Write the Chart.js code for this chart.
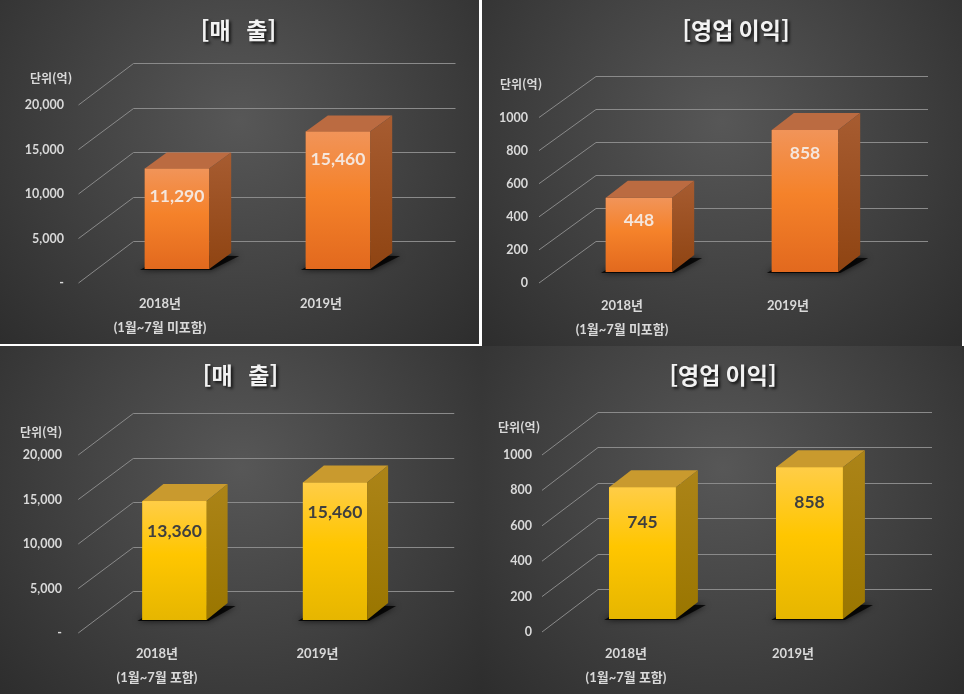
<!DOCTYPE html>
<html lang="ko">
<head>
<meta charset="utf-8">
<title>매출 / 영업 이익</title>
<script src="https://cdn.jsdelivr.net/npm/chart.js@4.4.1/dist/chart.umd.min.js"></script>
<style>
  html, body { margin: 0; padding: 0; background: #2e2e2e; }
  body { position: relative; width: 964px; height: 694px; overflow: hidden; }
  canvas { position: absolute; display: block; }
  .edge { position: absolute; background: #ffffff; }
</style>
</head>
<body>
<canvas id="salesBefore" width="479" height="344" style="left:0;top:0"></canvas>
<canvas id="profitBefore" width="480" height="346" style="left:482px;top:0"></canvas>
<canvas id="salesAfter" width="482" height="348" style="left:0;top:346px"></canvas>
<canvas id="profitAfter" width="482" height="348" style="left:482px;top:346px"></canvas>
<div class="edge" style="left:479px;top:0;width:3px;height:346px"></div>
<div class="edge" style="left:0;top:344px;width:482px;height:2px"></div>
<div class="edge" style="left:962px;top:0;width:2px;height:346px"></div>
<script>
'use strict';

// ---------------------------------------------------------------------------
// Data
// ---------------------------------------------------------------------------
const years = ['2018년', '2019년'];
const noteExcluded = '(1월~7월 미포함)';
const noteIncluded = '(1월~7월 포함)';

const salesExcluded = [11290, 15460];   // 억
const profitExcluded = [448, 858];
const salesIncluded = [13360, 15460];
const profitIncluded = [745, 858];

const salesAxis = { max: 20000, step: 5000 };
const profitAxis = { max: 1000, step: 200 };

const ORANGE = {
    frontTop: '#f19459', frontMid: '#f5822a', frontBottom: '#e2691e',
    top: '#bb6b41', sideTop: '#a75c31', sideBottom: '#8f4412',
    label: '#f5e6dc'
};
const YELLOW = {
    frontTop: '#ffcd47', frontMid: '#ffc600', frontBottom: '#e6b600',
    top: '#c99a2e', sideTop: '#ac8418', sideBottom: '#9a7600',
    label: '#3f3f3f'
};

const TEXT_COLOR = '#d9d9d9';
const GRID_COLOR = '#8a8a8a';
const LABEL_FONT = "Lato, 'Noto Sans CJK KR', sans-serif";
const KOREAN_FONT = "'Noto Sans CJK KR', sans-serif";

// ---------------------------------------------------------------------------
// Fake 3D column look (walls, shadows, top and side faces)
// ---------------------------------------------------------------------------
const depthPlugin = {
    id: 'depth3d',

    beforeDraw(chart) {
        const { ctx, width, height } = chart;
        const bg = ctx.createRadialGradient(width * 0.5, height * 0.35, 0, width * 0.5, height * 0.35, width * 0.72);
        bg.addColorStop(0, '#575757');
        bg.addColorStop(1, '#2b2b2b');
        ctx.save();
        ctx.fillStyle = bg;
        ctx.fillRect(0, 0, width, height);
        ctx.restore();
    },

    beforeDatasetsDraw(chart, args, opts) {
        const { ctx, chartArea } = chart;
        const yScale = chart.scales.y;
        const [fx, fy] = opts.front;
        const [bx, by] = opts.back;

        ctx.save();
        ctx.strokeStyle = GRID_COLOR;
        ctx.lineWidth = 1;
        yScale.ticks.forEach(tick => {
            const py = yScale.getPixelForValue(tick.value);
            const backY = Math.round(py - by) + 0.5;
            ctx.beginPath();
            ctx.moveTo(chartArea.left - fx, py + fy);
            ctx.lineTo(chartArea.left + bx, backY);
            ctx.lineTo(chartArea.right + bx, backY);
            ctx.stroke();
        });

        // soft shadow on the floor behind each column
        const [dx, dy] = opts.depth;
        chart.getDatasetMeta(0).data.forEach(bar => {
            const x0 = bar.x - bar.width / 2;
            const x1 = bar.x + bar.width / 2;
            const b = bar.base;
            ctx.fillStyle = 'rgba(0,0,0,0.8)';
            ctx.shadowColor = 'rgba(0,0,0,0.9)';
            ctx.shadowBlur = 6;
            ctx.beginPath();
            ctx.moveTo(x0 - 5, b + 1);
            ctx.lineTo(x1 + 2, b + 1);
            ctx.lineTo(x1 + dx + 8, b - dy + 3);
            ctx.lineTo(x0 + dx, b - dy + 2);
            ctx.closePath();
            ctx.fill();
        });
        ctx.restore();
    },

    afterDatasetsDraw(chart, args, opts) {
        const { ctx } = chart;
        const c = opts.colors;
        const [dx, dy] = opts.depth;
        const values = chart.data.datasets[0].data;

        ctx.save();
        chart.getDatasetMeta(0).data.forEach((bar, i) => {
            const x0 = bar.x - bar.width / 2;
            const x1 = bar.x + bar.width / 2;
            const top = bar.y;
            const b = bar.base;

            const front = ctx.createLinearGradient(0, top, 0, b);
            front.addColorStop(0, c.frontTop);
            front.addColorStop(0.45, c.frontMid);
            front.addColorStop(1, c.frontBottom);
            ctx.fillStyle = front;
            ctx.fillRect(x0, top, x1 - x0, b - top);

            ctx.fillStyle = c.top;
            ctx.beginPath();
            ctx.moveTo(x0, top);
            ctx.lineTo(x1, top);
            ctx.lineTo(x1 + dx, top - dy);
            ctx.lineTo(x0 + dx, top - dy);
            ctx.closePath();
            ctx.fill();

            const side = ctx.createLinearGradient(0, top - dy, 0, b);
            side.addColorStop(0, c.sideTop);
            side.addColorStop(1, c.sideBottom);
            ctx.fillStyle = side;
            ctx.beginPath();
            ctx.moveTo(x1, top);
            ctx.lineTo(x1 + dx, top - dy);
            ctx.lineTo(x1 + dx, b - dy);
            ctx.lineTo(x1, b);
            ctx.closePath();
            ctx.fill();

            ctx.fillStyle = c.label;
            ctx.font = 'bold 17.5px ' + LABEL_FONT;
            ctx.textAlign = 'center';
            ctx.textBaseline = 'middle';
            ctx.fillText(values[i].toLocaleString('en-US'), bar.x, top + opts.valueOffset);
        });
        ctx.restore();
    },

    afterDraw(chart, args, opts) {
        const { ctx } = chart;
        ctx.save();
        ctx.font = 'bold 23px ' + KOREAN_FONT;
        ctx.textAlign = 'center';
        ctx.textBaseline = 'middle';
        ctx.shadowColor = 'rgba(0,0,0,0.75)';
        ctx.shadowOffsetX = 2;
        ctx.shadowOffsetY = 2;
        ctx.shadowBlur = 3;
        ctx.fillStyle = '#f2f2f2';
        ctx.fillText(opts.title, opts.titleAt[0], opts.titleAt[1]);

        ctx.shadowColor = 'transparent';
        ctx.font = 'bold 12px ' + KOREAN_FONT;
        ctx.textAlign = 'left';
        ctx.fillStyle = TEXT_COLOR;
        ctx.fillText('단위(억)', opts.unitAt[0], opts.unitAt[1]);
        ctx.restore();
    }
};

// ---------------------------------------------------------------------------
// Chart builder
// ---------------------------------------------------------------------------
function buildChart(id, cfg) {
    const canvas = document.getElementById(id);
    const area = cfg.area;
    return new Chart(canvas, {
        type: 'bar',
        data: {
            labels: cfg.labels,
            datasets: [{
                data: cfg.values,
                backgroundColor: cfg.colors.frontMid,
                borderWidth: 0,
                barPercentage: 0.4,
                categoryPercentage: 1
            }]
        },
        options: {
            responsive: false,
            animation: false,
            devicePixelRatio: 1,
            layout: {
                padding: { left: 0, top: area.top, right: canvas.width - area.right, bottom: 0 }
            },
            plugins: {
                legend: { display: false },
                tooltip: { enabled: false },
                depth3d: {
                    colors: cfg.colors,
                    front: cfg.front,
                    back: cfg.back,
                    depth: cfg.depth,
                    valueOffset: cfg.valueOffset,
                    title: cfg.title,
                    titleAt: cfg.titleAt,
                    unitAt: cfg.unitAt
                }
            },
            scales: {
                x: {
                    grid: { display: false, drawTicks: false },
                    border: { display: false },
                    ticks: {
                        color: TEXT_COLOR,
                        font: { family: LABEL_FONT, size: 13, weight: 'bold', lineHeight: 1.85 },
                        labelOffset: cfg.xLabelOffset,
                        padding: cfg.xPad,
                        maxRotation: 0,
                        autoSkip: false
                    },
                    afterFit: scale => { scale.height = canvas.height - area.bottom; }
                },
                y: {
                    min: 0,
                    max: cfg.axis.max,
                    grid: { display: false, drawTicks: false },
                    border: { display: false },
                    ticks: {
                        stepSize: cfg.axis.step,
                        color: TEXT_COLOR,
                        font: { family: LABEL_FONT, size: 12.5, weight: 'bold' },
                        labelOffset: cfg.front[1],
                        padding: area.left - cfg.tickRight,
                        callback: cfg.tickFormat
                    },
                    afterFit: scale => { scale.width = area.left; }
                }
            }
        },
        plugins: [depthPlugin]
    });
}

const salesTick = v => (v === 0 ? '-' : v.toLocaleString('en-US'));
const profitTick = v => String(v);

buildChart('salesBefore', {
    labels: [[years[0], noteExcluded], years[1]],
    values: salesExcluded,
    axis: salesAxis,
    tickFormat: salesTick,
    colors: ORANGE,
    area: { left: 96.5, right: 418.5, top: 91, bottom: 269 },
    front: [18, 14], back: [37, 28], depth: [22, 16],
    tickRight: 64, xLabelOffset: -17, xPad: 23,
    valueOffset: 28,
    title: '[매   출]', titleAt: [238.5, 30], unitAt: [30, 78]
});

buildChart('profitBefore', {
    labels: [[years[0], noteExcluded], years[1]],
    values: profitExcluded,
    axis: profitAxis,
    tickFormat: profitTick,
    colors: ORANGE,
    area: { left: 74, right: 406, top: 106.5, bottom: 272 },
    front: [17, 11], back: [40, 31], depth: [22, 17],
    tickRight: 46, xLabelOffset: -17, xPad: 22,
    valueOffset: 23,
    title: '[영업 이익]', titleAt: [254, 30], unitAt: [18, 84]
});

buildChart('salesAfter', {
    labels: [[years[0], noteIncluded], years[1]],
    values: salesIncluded,
    axis: salesAxis,
    tickFormat: salesTick,
    colors: YELLOW,
    area: { left: 94.25, right: 415.25, top: 96, bottom: 274 },
    front: [16, 13], back: [39, 29], depth: [21, 17],
    tickRight: 62, xLabelOffset: -17.5, xPad: 22,
    valueOffset: 30,
    title: '[매   출]', titleAt: [240.5, 29.5], unitAt: [20, 86]
});

buildChart('profitAfter', {
    labels: [[years[0], noteIncluded], years[1]],
    values: profitIncluded,
    axis: profitAxis,
    tickFormat: profitTick,
    colors: YELLOW,
    area: { left: 77, right: 411, top: 96, bottom: 273 },
    front: [17, 13], back: [39, 30], depth: [22, 17],
    tickRight: 50, xLabelOffset: -16.5, xPad: 23,
    valueOffset: 35.5,
    title: '[영업 이익]', titleAt: [241, 29.5], unitAt: [16, 81]
});
</script>
</body>
</html>
